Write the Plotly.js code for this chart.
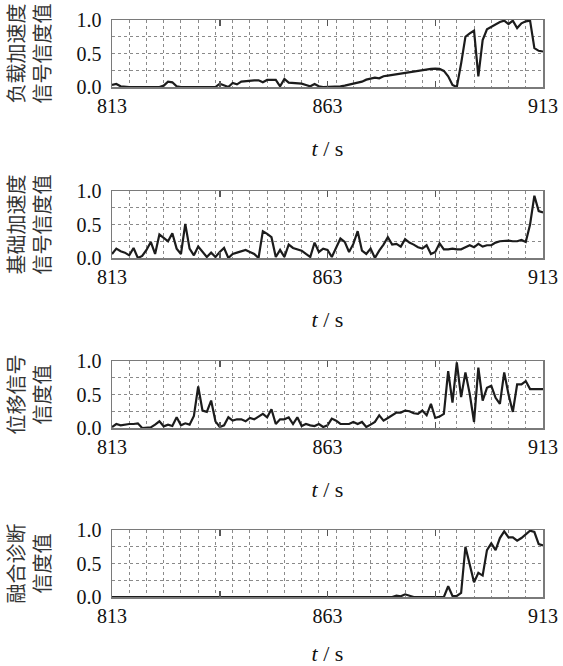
<!DOCTYPE html>
<html>
<head>
<meta charset="utf-8">
<script src="https://cdn.plot.ly/plotly-3.0.1.min.js"></script>
<style>html,body{margin:0;padding:0;background:#fff}#chart{width:563px;height:666px}</style>
</head>
<body>
<div id="chart"></div>
<script>
// time axis (s)
const time = [813,814,815,816,817,818,819,820,821,822,
823,824,825,826,827,828,829,830,831,832,
833,834,835,836,837,838,839,840,841,842,
843,844,845,846,847,848,849,850,851,852,
853,854,855,856,857,858,859,860,861,862,
863,864,865,866,867,868,869,870,871,872,
873,874,875,876,877,878,879,880,881,882,
883,884,885,886,887,888,889,890,891,892,
893,894,895,896,897,898,899,900,901,902,
903,904,905,906,907,908,909,910,911,912,
913];

// 负载加速度信号信度值
const loadAccel = [0.03,0.045,0.01,0,0,0,0,0,0,0,
0,0,0.02,0.08,0.07,0.01,0,0,0,0,
0,0,0,0,0,0.05,0.02,0,0.06,0.04,
0.08,0.09,0.09,0.1,0.1,0.07,0.105,0.105,0.105,0.01,
0.12,0.065,0.06,0.055,0.05,0.03,0.01,0.045,0.01,0,
0,0,0,0.01,0.02,0.035,0.05,0.065,0.08,0.11,
0.12,0.14,0.13,0.16,0.17,0.18,0.2,0.21,0.215,0.225,
0.23,0.24,0.25,0.26,0.27,0.275,0.27,0.24,0.16,0.03,
0,0.35,0.75,0.8,0.84,0.16,0.7,0.86,0.9,0.93,
0.97,0.99,0.94,0.99,0.88,0.95,0.98,0.99,0.58,0.54,
0.53];

// 基础加速度信号信度值
const baseAccel = [0.06,0.14,0.1,0.08,0.04,0.15,0,0.03,0.12,0.24,
0.06,0.35,0.3,0.25,0.37,0.14,0.06,0.51,0.14,0.04,
0.17,0.1,0.015,0.08,0.015,0.09,0.15,0,0.06,0.08,
0.1,0.12,0.09,0.06,0,0.4,0.36,0.31,0.015,0.12,
0.015,0.2,0.15,0.13,0.11,0.06,0.015,0.23,0.09,0.14,
0.12,0.015,0.15,0.29,0.24,0.09,0.21,0.4,0.11,0.06,
0.14,0,0.11,0.2,0.31,0.2,0.21,0.17,0.28,0.23,
0.2,0.16,0.14,0.19,0.06,0.09,0.22,0.13,0.13,0.14,
0.13,0.13,0.16,0.19,0.16,0.21,0.17,0.19,0.19,0.23,
0.25,0.26,0.26,0.25,0.25,0.27,0.24,0.5,0.93,0.7,
0.68];

// 位移信号信度值
const displacement = [0.015,0.06,0.04,0.055,0.06,0.06,0.07,0,0,0.01,
0.05,0.1,0.025,0.05,0.03,0.16,0.04,0.07,0.05,0.18,
0.62,0.26,0.24,0.41,0.1,0.015,0.04,0.16,0.11,0.13,
0.13,0.1,0.15,0.13,0.17,0.21,0.16,0.28,0.06,0.13,
0.13,0.16,0.06,0.16,0.03,0.06,0.04,0.03,0.06,0.015,
0.04,0.14,0.11,0.06,0.06,0.06,0.09,0.06,0.09,0.015,
0.05,0.09,0.19,0.11,0.15,0.19,0.23,0.23,0.26,0.25,
0.22,0.21,0.26,0.19,0.36,0.15,0.17,0.21,0.85,0.38,
0.98,0.46,0.83,0.51,0.09,0.9,0.41,0.6,0.63,0.45,
0.36,0.83,0.5,0.24,0.65,0.65,0.7,0.58,0.58,0.58,
0.58];

// 融合诊断信度值
const fusion = [0,0,0,0,0,0,0,0,0,0,
0,0,0,0,0,0,0,0,0,0,
0,0,0,0,0,0,0,0,0,0,
0,0,0,0,0,0,0,0,0,0,
0,0,0,0,0,0,0,0,0,0,
0,0,0,0,0,0,0,0,0,0,
0,0,0,0,0,0,0.02,0.01,0.04,0.02,
0,0,0,0,0,0,0,0,0.16,0.015,
0.015,0.06,0.75,0.48,0.22,0.36,0.32,0.7,0.8,0.7,
0.88,0.98,0.89,0.89,0.84,0.88,0.93,0.99,0.97,0.79,
0.77];

const panelTitles = ['负载加速度<br>信号信度值','基础加速度<br>信号信度值','位移信号<br>信度值','融合诊断<br>信度值'];
const series = [loadAccel, baseAccel, displacement, fusion];
const xTickVals = [813,838,863,888,913];
const xTickText = ['813','','863','','913'];
const yTickVals = [0,0.5,1];
const yTickText = ['0.0','0.5','1.0'];
const xTitle = '<i>t</i> / s';

const W = 563, H = 666;
const plotLeft = 112, plotRight = 543;
const panelTops = [20,191,361,530];
const panelH = 67;

const serif = 'Liberation Serif';
const gridC = '#8a8a8a';
const data = [];
const layout = {
  width: W, height: H,
  margin: {l:0, r:0, t:0, b:0},
  paper_bgcolor: '#fff', plot_bgcolor: '#fff',
  showlegend: false,
  font: {family: serif, size: 20, color: '#111'}
};

series.forEach((vals, i) => {
  const n = i === 0 ? '' : String(i+1);
  data.push({
    x: time, y: vals, type: 'scatter', mode: 'lines',
    xaxis: 'x'+n, yaxis: 'y'+n,
    line: {color: '#1c1c1c', width: 2.2},
    hoverinfo: 'skip'
  });
  const top = panelTops[i], bot = top + panelH;
  layout['xaxis'+n] = {
    domain: [plotLeft/W, plotRight/W],
    anchor: 'y'+n,
    range: [813, 913],
    tickmode: 'array', tickvals: xTickVals, ticktext: xTickText,
    ticks: 'inside', ticklen: 6, tickwidth: 1.5, tickcolor: '#555',
    mirror: 'ticks', showline: true, linecolor: '#7a7a7a', linewidth: 1.5,
    showgrid: false, zeroline: false,
    tickfont: {family: serif, size: 20, color: '#111'},
    minor: {tickmode: 'linear', tick0: 813, dtick: 4, showgrid: true, gridcolor: gridC, griddash: 'dot', gridwidth: 1, ticks: ''},
    title: {text: xTitle, font: {family: serif, size: 22, color: '#111'}, standoff: 25},
    fixedrange: true
  };
  layout['yaxis'+n] = {
    domain: [1 - bot/H, 1 - top/H],
    anchor: 'x'+n,
    range: [0, 1],
    tickmode: 'array', tickvals: yTickVals, ticktext: yTickText,
    ticks: '', ticklabelstandoff: 5,
    mirror: true, showline: true, linecolor: '#7a7a7a', linewidth: 1.5,
    showgrid: true, gridcolor: gridC, griddash: 'dot', gridwidth: 1,
    zeroline: false,
    tickfont: {family: serif, size: 20, color: '#111'},
    minor: {tickvals: [0.25, 0.75], showgrid: true, gridcolor: gridC, griddash: 'dot', gridwidth: 1, ticks: ''},
    title: {text: panelTitles[i], font: {family: 'Noto Sans CJK SC', size: 20, color: '#333'}, standoff: 20},
    fixedrange: true
  };
});

Plotly.newPlot('chart', data, layout, {displayModeBar: false, staticPlot: true});
</script>
</body>
</html>
